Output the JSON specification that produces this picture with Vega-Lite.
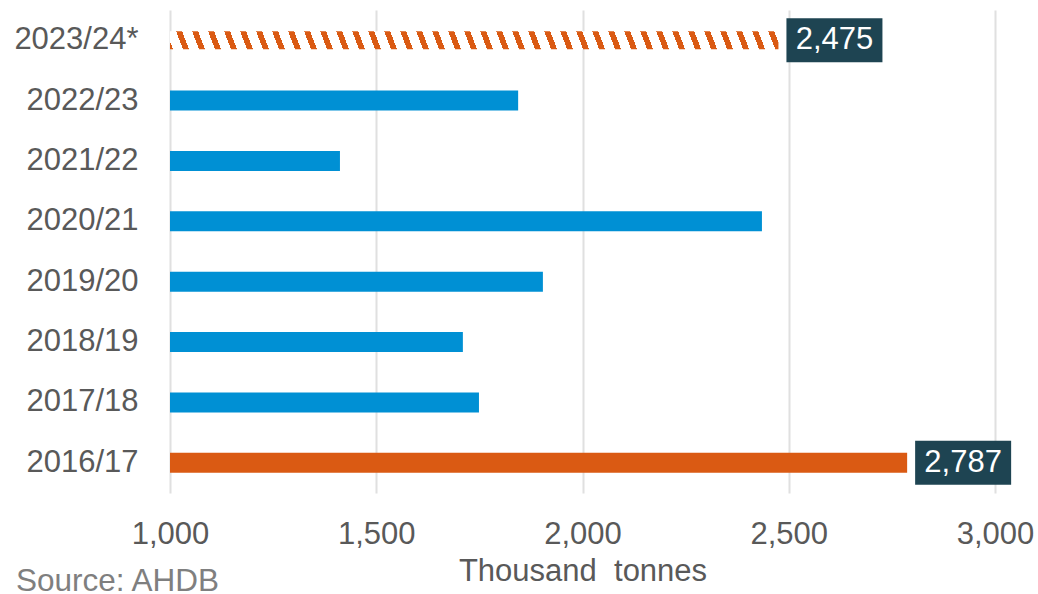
{
  "$schema": "https://vega.github.io/schema/vega-lite/v6.json",
  "width": 825,
  "height": 483,
  "autosize": "none",
  "padding": {"left": 170, "top": 10, "right": 43, "bottom": 101},
  "background": "white",
  "config": {"font": "Liberation Sans", "view": {"stroke": null}},
  "title": {"text": "Source: AHDB", "orient": "bottom", "anchor": "start", "frame": "group", "dx": -154, "offset": 5, "baseline": "alphabetic", "fontSize": 31.5, "fontWeight": "normal", "color": "#7f7f7f"},
  "data": {"values": [
    {"year": "2023/24*", "value": 2475, "kind": "forecast"},
    {"year": "2022/23", "value": 1844, "kind": "normal"},
    {"year": "2021/22", "value": 1412, "kind": "normal"},
    {"year": "2020/21", "value": 2435, "kind": "normal"},
    {"year": "2019/20", "value": 1904, "kind": "normal"},
    {"year": "2018/19", "value": 1710, "kind": "normal"},
    {"year": "2017/18", "value": 1749, "kind": "normal"},
    {"year": "2016/17", "value": 2787, "kind": "high"}
  ]},
  "encoding": {
    "y": {"field": "year", "type": "nominal",
      "sort": ["2023/24*", "2022/23", "2021/22", "2020/21", "2019/20", "2018/19", "2017/18", "2016/17"],
      "axis": {"title": null, "labelFontSize": 31, "labelColor": "#595959", "labelPadding": 32, "ticks": false, "tickSize": 0, "domain": false, "grid": false}},
    "x": {"field": "value", "type": "quantitative", "scale": {"domain": [1000, 3000], "nice": false, "zero": false},
      "axis": {"values": [1000, 1500, 2000, 2500, 3000], "format": ",.0f", "grid": true, "gridColor": "#e0e0e0", "gridWidth": 2, "ticks": false, "tickSize": 0, "domain": false,
        "labelFontSize": 31, "labelColor": "#595959", "labelBaseline": "alphabetic", "labelPadding": 50, "labelFlush": false, "labelOverlap": false, "labelBound": false,
        "title": "Thousand\u00a0 tonnes", "titleFontSize": 31, "titleFontWeight": "normal", "titleColor": "#595959", "titleBaseline": "alphabetic", "titleY": 87}}
  },
  "layer": [
    {
      "transform": [{"filter": "datum.kind != 'forecast'"}],
      "mark": {"type": "bar", "height": 20},
      "encoding": {
        "x2": {"datum": 1000},
        "color": {"field": "kind", "type": "nominal", "scale": {"domain": ["normal", "high"], "range": ["#0090D4", "#DA5A13"]}, "legend": null}
      }
    },
    {
      "transform": [{"filter": "datum.kind == 'forecast'"}],
      "mark": {"type": "bar", "height": 18,
        "fill": {"gradient": "linear", "x1": -0.05, "y1": 0, "x2": 1, "y2": -0.01213, "stops": [
          {"offset": 0, "color": "#ffffff"},
          {"offset": 0.00692, "color": "#ffffff"}, {"offset": 0.00692, "color": "#DA5A13"}, {"offset": 0.01631, "color": "#DA5A13"}, {"offset": 0.01631, "color": "#ffffff"},
          {"offset": 0.03197, "color": "#ffffff"}, {"offset": 0.03197, "color": "#DA5A13"}, {"offset": 0.04136, "color": "#DA5A13"}, {"offset": 0.04136, "color": "#ffffff"},
          {"offset": 0.05701, "color": "#ffffff"}, {"offset": 0.05701, "color": "#DA5A13"}, {"offset": 0.06640, "color": "#DA5A13"}, {"offset": 0.06640, "color": "#ffffff"},
          {"offset": 0.08206, "color": "#ffffff"}, {"offset": 0.08206, "color": "#DA5A13"}, {"offset": 0.09145, "color": "#DA5A13"}, {"offset": 0.09145, "color": "#ffffff"},
          {"offset": 0.10711, "color": "#ffffff"}, {"offset": 0.10711, "color": "#DA5A13"}, {"offset": 0.11650, "color": "#DA5A13"}, {"offset": 0.11650, "color": "#ffffff"},
          {"offset": 0.13215, "color": "#ffffff"}, {"offset": 0.13215, "color": "#DA5A13"}, {"offset": 0.14154, "color": "#DA5A13"}, {"offset": 0.14154, "color": "#ffffff"},
          {"offset": 0.15720, "color": "#ffffff"}, {"offset": 0.15720, "color": "#DA5A13"}, {"offset": 0.16659, "color": "#DA5A13"}, {"offset": 0.16659, "color": "#ffffff"},
          {"offset": 0.18224, "color": "#ffffff"}, {"offset": 0.18224, "color": "#DA5A13"}, {"offset": 0.19163, "color": "#DA5A13"}, {"offset": 0.19163, "color": "#ffffff"},
          {"offset": 0.20729, "color": "#ffffff"}, {"offset": 0.20729, "color": "#DA5A13"}, {"offset": 0.21668, "color": "#DA5A13"}, {"offset": 0.21668, "color": "#ffffff"},
          {"offset": 0.23234, "color": "#ffffff"}, {"offset": 0.23234, "color": "#DA5A13"}, {"offset": 0.24173, "color": "#DA5A13"}, {"offset": 0.24173, "color": "#ffffff"},
          {"offset": 0.25738, "color": "#ffffff"}, {"offset": 0.25738, "color": "#DA5A13"}, {"offset": 0.26677, "color": "#DA5A13"}, {"offset": 0.26677, "color": "#ffffff"},
          {"offset": 0.28243, "color": "#ffffff"}, {"offset": 0.28243, "color": "#DA5A13"}, {"offset": 0.29182, "color": "#DA5A13"}, {"offset": 0.29182, "color": "#ffffff"},
          {"offset": 0.30748, "color": "#ffffff"}, {"offset": 0.30748, "color": "#DA5A13"}, {"offset": 0.31687, "color": "#DA5A13"}, {"offset": 0.31687, "color": "#ffffff"},
          {"offset": 0.33252, "color": "#ffffff"}, {"offset": 0.33252, "color": "#DA5A13"}, {"offset": 0.34191, "color": "#DA5A13"}, {"offset": 0.34191, "color": "#ffffff"},
          {"offset": 0.35757, "color": "#ffffff"}, {"offset": 0.35757, "color": "#DA5A13"}, {"offset": 0.36696, "color": "#DA5A13"}, {"offset": 0.36696, "color": "#ffffff"},
          {"offset": 0.38262, "color": "#ffffff"}, {"offset": 0.38262, "color": "#DA5A13"}, {"offset": 0.39201, "color": "#DA5A13"}, {"offset": 0.39201, "color": "#ffffff"},
          {"offset": 0.40766, "color": "#ffffff"}, {"offset": 0.40766, "color": "#DA5A13"}, {"offset": 0.41705, "color": "#DA5A13"}, {"offset": 0.41705, "color": "#ffffff"},
          {"offset": 0.43271, "color": "#ffffff"}, {"offset": 0.43271, "color": "#DA5A13"}, {"offset": 0.44210, "color": "#DA5A13"}, {"offset": 0.44210, "color": "#ffffff"},
          {"offset": 0.45776, "color": "#ffffff"}, {"offset": 0.45776, "color": "#DA5A13"}, {"offset": 0.46715, "color": "#DA5A13"}, {"offset": 0.46715, "color": "#ffffff"},
          {"offset": 0.48280, "color": "#ffffff"}, {"offset": 0.48280, "color": "#DA5A13"}, {"offset": 0.49219, "color": "#DA5A13"}, {"offset": 0.49219, "color": "#ffffff"},
          {"offset": 0.50785, "color": "#ffffff"}, {"offset": 0.50785, "color": "#DA5A13"}, {"offset": 0.51724, "color": "#DA5A13"}, {"offset": 0.51724, "color": "#ffffff"},
          {"offset": 0.53290, "color": "#ffffff"}, {"offset": 0.53290, "color": "#DA5A13"}, {"offset": 0.54229, "color": "#DA5A13"}, {"offset": 0.54229, "color": "#ffffff"},
          {"offset": 0.55795, "color": "#ffffff"}, {"offset": 0.55795, "color": "#DA5A13"}, {"offset": 0.56734, "color": "#DA5A13"}, {"offset": 0.56734, "color": "#ffffff"},
          {"offset": 0.58299, "color": "#ffffff"}, {"offset": 0.58299, "color": "#DA5A13"}, {"offset": 0.59238, "color": "#DA5A13"}, {"offset": 0.59238, "color": "#ffffff"},
          {"offset": 0.60804, "color": "#ffffff"}, {"offset": 0.60804, "color": "#DA5A13"}, {"offset": 0.61743, "color": "#DA5A13"}, {"offset": 0.61743, "color": "#ffffff"},
          {"offset": 0.63309, "color": "#ffffff"}, {"offset": 0.63309, "color": "#DA5A13"}, {"offset": 0.64248, "color": "#DA5A13"}, {"offset": 0.64248, "color": "#ffffff"},
          {"offset": 0.65813, "color": "#ffffff"}, {"offset": 0.65813, "color": "#DA5A13"}, {"offset": 0.66752, "color": "#DA5A13"}, {"offset": 0.66752, "color": "#ffffff"},
          {"offset": 0.68318, "color": "#ffffff"}, {"offset": 0.68318, "color": "#DA5A13"}, {"offset": 0.69257, "color": "#DA5A13"}, {"offset": 0.69257, "color": "#ffffff"},
          {"offset": 0.70823, "color": "#ffffff"}, {"offset": 0.70823, "color": "#DA5A13"}, {"offset": 0.71762, "color": "#DA5A13"}, {"offset": 0.71762, "color": "#ffffff"},
          {"offset": 0.73327, "color": "#ffffff"}, {"offset": 0.73327, "color": "#DA5A13"}, {"offset": 0.74266, "color": "#DA5A13"}, {"offset": 0.74266, "color": "#ffffff"},
          {"offset": 0.75832, "color": "#ffffff"}, {"offset": 0.75832, "color": "#DA5A13"}, {"offset": 0.76771, "color": "#DA5A13"}, {"offset": 0.76771, "color": "#ffffff"},
          {"offset": 0.78337, "color": "#ffffff"}, {"offset": 0.78337, "color": "#DA5A13"}, {"offset": 0.79276, "color": "#DA5A13"}, {"offset": 0.79276, "color": "#ffffff"},
          {"offset": 0.80841, "color": "#ffffff"}, {"offset": 0.80841, "color": "#DA5A13"}, {"offset": 0.81780, "color": "#DA5A13"}, {"offset": 0.81780, "color": "#ffffff"},
          {"offset": 0.83346, "color": "#ffffff"}, {"offset": 0.83346, "color": "#DA5A13"}, {"offset": 0.84285, "color": "#DA5A13"}, {"offset": 0.84285, "color": "#ffffff"},
          {"offset": 0.85851, "color": "#ffffff"}, {"offset": 0.85851, "color": "#DA5A13"}, {"offset": 0.86790, "color": "#DA5A13"}, {"offset": 0.86790, "color": "#ffffff"},
          {"offset": 0.88355, "color": "#ffffff"}, {"offset": 0.88355, "color": "#DA5A13"}, {"offset": 0.89294, "color": "#DA5A13"}, {"offset": 0.89294, "color": "#ffffff"},
          {"offset": 0.90860, "color": "#ffffff"}, {"offset": 0.90860, "color": "#DA5A13"}, {"offset": 0.91799, "color": "#DA5A13"}, {"offset": 0.91799, "color": "#ffffff"},
          {"offset": 0.93365, "color": "#ffffff"}, {"offset": 0.93365, "color": "#DA5A13"}, {"offset": 0.94304, "color": "#DA5A13"}, {"offset": 0.94304, "color": "#ffffff"},
          {"offset": 0.95869, "color": "#ffffff"}, {"offset": 0.95869, "color": "#DA5A13"}, {"offset": 0.96808, "color": "#DA5A13"}, {"offset": 0.96808, "color": "#ffffff"},
          {"offset": 0.98374, "color": "#ffffff"}, {"offset": 0.98374, "color": "#DA5A13"}, {"offset": 0.99313, "color": "#DA5A13"}, {"offset": 0.99313, "color": "#ffffff"},
          {"offset": 1, "color": "#ffffff"}
        ]}},
      "encoding": {
        "x2": {"datum": 1000}
      }
    },
    {
      "transform": [{"filter": "datum.kind != 'normal'"}],
      "mark": {"type": "bar", "height": 44, "color": "#1E4452", "xOffset": 8, "x2Offset": 104},
      "encoding": {
        "x2": {"field": "value"}
      }
    },
    {
      "transform": [{"filter": "datum.kind != 'normal'"}],
      "mark": {"type": "text", "dx": 56, "align": "center", "baseline": "middle", "fontSize": 31, "color": "#ffffff"},
      "encoding": {
        "text": {"field": "value", "type": "quantitative", "format": ","}
      }
    }
  ]
}
